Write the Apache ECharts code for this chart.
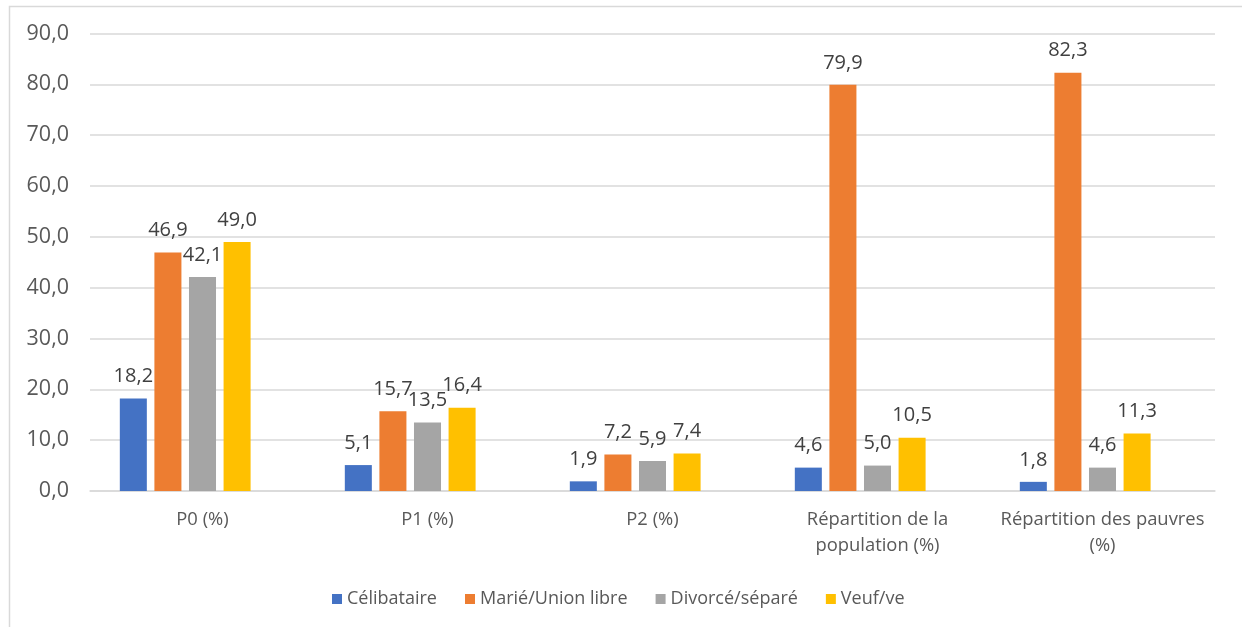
<!DOCTYPE html>
<html>
<head>
<meta charset="utf-8">
<script src="https://cdn.jsdelivr.net/npm/echarts@6/dist/echarts.min.js"></script>
<style>
  html, body { margin: 0; padding: 0; background: #ffffff; }
  #chart { width: 1242px; height: 627px; }
</style>
</head>
<body>
<div id="chart"></div>
<script>
// Poverty indicators by marital status
const categories = [
  'P0 (%)',
  'P1 (%)',
  'P2 (%)',
  'Répartition de la\npopulation (%)',
  'Répartition des pauvres\n(%)'
];
const seriesNames = ['Célibataire', 'Marié/Union libre', 'Divorcé/séparé', 'Veuf/ve'];
const celibataire = [18.2, 5.1, 1.9, 4.6, 1.8];
const marie = [46.9, 15.7, 7.2, 79.9, 82.3];
const divorce = [42.1, 13.5, 5.9, 5.0, 4.6];
const veuf = [49.0, 16.4, 7.4, 10.5, 11.3];
// blank fifth column of the source table: it still reserves a slot in each cluster
const blankColumn = [null, null, null, null, null];
const yTicks = { min: 0, max: 90, interval: 10 };

const colors = ['#4472C4', '#ED7D31', '#A5A5A5', '#FFC000'];
const values = [celibataire, marie, divorce, veuf];
const fontFamily = '"Open Sans", "Noto Sans", sans-serif';
const fmt = v => Number(v).toFixed(1).replace('.', ',');

const chart = echarts.init(document.getElementById('chart'), null, { renderer: 'canvas' });

const barSeries = seriesNames.map((name, i) => ({
  name: name,
  type: 'bar',
  data: values[i],
  barGap: '28%',
  barCategoryGap: '26.5%',
  itemStyle: { color: colors[i] },
  label: {
    show: true,
    position: 'top',
    distance: 12,
    color: '#404040',
    fontSize: 20,
    fontFamily: fontFamily,
    formatter: p => fmt(p.value)
  }
}));
barSeries.push({
  name: 'blank',
  type: 'bar',
  data: blankColumn,
  barGap: '28%',
  barCategoryGap: '26.5%',
  silent: true
});

chart.setOption({
  animation: false,
  color: colors,
  textStyle: { fontFamily: fontFamily },
  graphic: [{
    type: 'rect',
    left: 7, top: 4,
    shape: { width: 1400, height: 800 },
    style: { fill: 'none', stroke: '#d9d9d9', lineWidth: 1.5 },
    silent: true
  }],
  grid: { left: 90, right: 27, top: 33.5, bottom: 136, containLabel: false },
  legend: {
    data: seriesNames,
    left: 327,
    top: 585,
    icon: 'rect',
    itemWidth: 10,
    itemHeight: 10,
    itemGap: 28,
    textStyle: { color: '#595959', fontSize: 18, fontFamily: fontFamily }
  },
  xAxis: {
    type: 'category',
    data: categories,
    axisLine: { show: true, lineStyle: { color: '#d9d9d9', width: 1.5 } },
    axisTick: { show: false },
    axisLabel: {
      color: '#595959',
      fontSize: 18.4,
      lineHeight: 26,
      margin: 16,
      interval: 0,
      fontFamily: fontFamily
    }
  },
  yAxis: {
    type: 'value',
    min: yTicks.min,
    max: yTicks.max,
    interval: yTicks.interval,
    axisLine: { show: false },
    axisTick: { show: false },
    splitLine: { lineStyle: { color: '#d9d9d9', width: 1.5 } },
    axisLabel: {
      color: '#595959',
      fontSize: 21.5,
      margin: 21,
      fontFamily: fontFamily,
      formatter: v => fmt(v)
    }
  },
  series: barSeries
});
</script>
</body>
</html>
